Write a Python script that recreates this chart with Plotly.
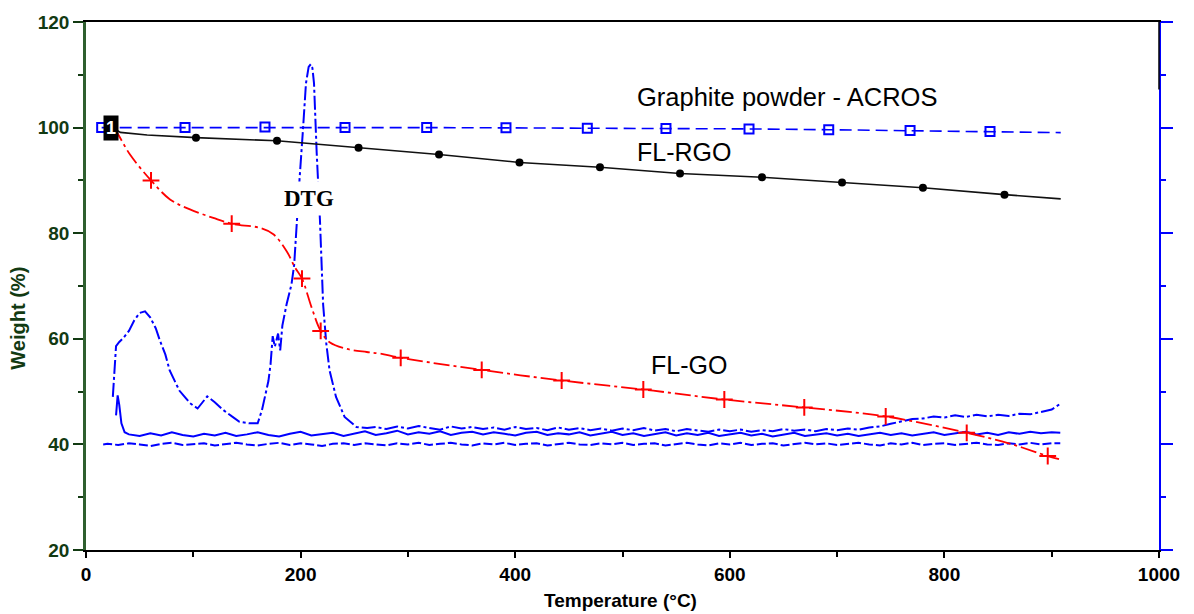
import plotly.graph_objects as go

# ---------------- data ----------------
# Graphite powder - ACROS (TGA, blue dashed, open squares)
GRAPHITE_T = [14.6, 92.3, 166.8, 241.4, 317.5, 391.4, 467.2, 540.5, 617.9, 692.2, 768.0, 842.5, 908.4]
GRAPHITE_W = [100.0, 100.0, 100.1, 100.0, 100.0, 99.95, 99.9, 99.85, 99.75, 99.6, 99.45, 99.25, 99.05]
GRAPHITE_MARK_T = [14.6, 92.3, 166.8, 241.4, 317.5, 391.4, 467.2, 540.5, 617.9, 692.2, 768.0, 842.5]
GRAPHITE_MARK_W = [100.0, 100.0, 100.1, 100.0, 100.0, 99.95, 99.9, 99.85, 99.75, 99.6, 99.45, 99.25]

# FL-RGO (TGA, black line, filled circles)
RGO_T = [25, 32, 57, 102.5, 178, 254, 329, 404, 479, 553.6, 630, 704.6, 780, 856, 908.4]
RGO_W = [100.0, 99.1, 98.6, 98.1, 97.5, 96.2, 94.9, 93.4, 92.5, 91.3, 90.6, 89.6, 88.6, 87.3, 86.5]
RGO_MARK_T = [102.5, 178, 254, 329, 404, 479, 553.6, 630, 704.6, 780, 856]
RGO_MARK_W = [98.1, 97.5, 96.2, 94.9, 93.4, 92.5, 91.3, 90.6, 89.6, 88.6, 87.3]

# FL-GO (TGA, red dash-dot, + markers)
GO_T = [25, 29, 41, 60.6, 78.3, 96.9, 118.6, 135.8, 162.2, 174.6, 187, 194.8, 201.3, 210.3,
        218.7, 227.4, 243, 261.6, 274, 293.3, 368.8, 443.3, 519.4, 594.9, 669.4, 745.3,
        820.8, 860, 896.3, 906.8]
GO_W = [100.0, 99.0, 94.9, 90.0, 86.4, 84.5, 82.9, 81.8, 81.0, 79.8, 76.6, 73.5, 71.4, 65.9,
        61.5, 59.3, 58.1, 57.5, 57.2, 56.4, 54.1, 52.1, 50.4, 48.5, 47.0, 45.3,
        42.2, 40.2, 37.8, 37.2]
GO_MARK_T = [60.6, 135.8, 201.3, 218.7, 293.3, 368.8, 443.3, 519.4, 594.9, 669.4, 745.3, 820.8, 896.3]
GO_MARK_W = [90.0, 81.8, 71.4, 61.5, 56.4, 54.1, 52.1, 50.4, 48.5, 47.0, 45.3, 42.2, 37.8]

# DTG curve of FL-GO (blue dash-dot), plotted on the weight scale
DTG_GO = [(25, 49.0), (28, 58.6), (31, 59.4), (35, 60.2), (40, 61.5), (45, 63.5), (50, 64.9),
          (55, 65.2), (60, 64.0), (65, 62.0), (69, 59.6), (74, 57.0), (78, 54.0), (83, 52.0),
          (87, 50.2), (92, 49.0), (97, 47.8), (104, 46.8), (109, 48.0), (113, 49.1), (120, 48.0),
          (128, 46.5), (136, 45.3), (143, 44.3), (152, 44.0), (160, 44.0), (164, 46.5),
          (167, 49.6), (170, 52.0), (172, 55.2), (174, 60.5), (176, 58.5), (179, 61.0),
          (181, 57.8), (183, 62.5), (187, 66.6), (191.5, 70.3), (194, 74.0), (196.5, 82.7),
          (199, 90.2), (202, 99.0), (205, 108.4), (207.5, 111.5), (209.5, 112.0), (211, 111.3),
          (212.5, 108.4), (215, 95.2), (218, 82.7), (221, 66.5), (224, 59.0), (227, 54.0),
          (233, 49.0), (241, 45.2), (252, 43.3), (262, 43.1),
          (270, 43.3), (280, 42.9), (290, 43.4), (300, 43.0), (310, 43.5), (320, 43.1),
          (330, 42.8), (340, 43.4), (350, 43.0), (360, 43.3), (370, 42.9), (380, 43.2),
          (390, 42.8), (400, 43.3), (410, 42.9), (420, 43.1), (430, 42.7), (440, 43.2),
          (450, 42.8), (460, 43.1), (470, 42.7), (480, 43.0), (490, 42.6), (500, 43.0),
          (510, 42.7), (520, 43.1), (530, 42.6), (540, 42.9), (550, 42.5), (560, 42.9),
          (570, 42.6), (580, 42.4), (590, 42.8), (600, 42.5), (610, 42.8), (620, 42.4),
          (630, 42.7), (640, 42.5), (650, 42.9), (660, 42.6), (670, 42.8), (680, 42.5),
          (690, 42.9), (700, 42.7), (710, 43.0), (720, 42.8), (730, 43.2), (740, 43.4),
          (750, 43.9), (760, 44.3), (770, 44.8), (780, 44.9), (790, 45.3), (800, 45.1),
          (810, 45.5), (820, 45.2), (830, 45.6), (840, 45.3), (850, 45.6), (860, 45.4),
          (870, 45.8), (880, 45.7), (890, 46.1), (900, 46.6), (908, 47.7)]

# DTG curve of FL-RGO (blue, noisy)
DTG_RGO = [(28, 45.5), (29.5, 49.3), (31, 47.5), (33, 44.0), (36, 42.3),
           (40, 41.9), (50, 41.6), (60, 42.1), (70, 41.7), (80, 42.3), (90, 41.8), (100, 41.5),
           (110, 42.0), (120, 41.7), (130, 42.2), (140, 41.6), (150, 41.9), (160, 42.3),
           (170, 41.8), (180, 41.5), (190, 42.0), (200, 42.4), (210, 41.7), (220, 41.9),
           (230, 42.2), (240, 41.6), (250, 42.0), (260, 42.5), (270, 41.8), (280, 42.1),
           (290, 42.6), (300, 41.9), (310, 42.3), (320, 42.0), (330, 42.5), (340, 41.8),
           (350, 42.2), (360, 42.4), (370, 41.9), (380, 42.3), (390, 42.0), (400, 41.7),
           (410, 42.2), (420, 42.4), (430, 41.8), (440, 42.1), (450, 41.9), (460, 42.3),
           (470, 41.7), (480, 42.0), (490, 42.4), (500, 41.8), (510, 42.1), (520, 41.6),
           (530, 42.0), (540, 42.3), (550, 41.7), (560, 42.1), (570, 41.8), (580, 42.2),
           (590, 41.6), (600, 41.9), (610, 42.2), (620, 41.7), (630, 42.0), (640, 41.5),
           (650, 41.9), (660, 42.2), (670, 41.6), (680, 41.9), (690, 42.1), (700, 41.7),
           (710, 42.0), (720, 41.6), (730, 41.9), (740, 42.2), (750, 41.8), (760, 42.1),
           (770, 41.7), (780, 42.0), (790, 42.3), (800, 41.8), (810, 42.1), (820, 42.4),
           (830, 41.9), (840, 42.2), (850, 41.8), (860, 42.3), (870, 42.0), (880, 42.4),
           (890, 42.1), (900, 42.3), (908, 42.2)]

# DTG curve of graphite (blue, flat)
DTG_GRAPHITE = [(16, 40.0), (20, 40.1), (30, 39.9), (40, 40.2), (50, 40.0), (60, 39.7),
                (70, 40.1), (80, 40.3), (90, 39.9), (100, 40.1), (110, 40.2), (120, 39.8),
                (130, 40.0), (140, 40.3), (150, 40.0), (160, 39.8), (170, 40.1), (180, 40.3),
                (190, 39.9), (200, 40.2), (210, 40.0), (220, 39.7), (230, 40.1), (240, 40.2),
                (250, 39.9), (260, 40.2), (270, 40.0), (280, 39.8), (290, 40.2), (300, 40.0),
                (310, 40.3), (320, 39.9), (330, 40.1), (340, 40.3), (350, 40.0), (360, 39.8),
                (370, 40.2), (380, 40.0), (390, 40.3), (400, 39.9), (410, 40.1), (420, 40.2),
                (430, 39.8), (440, 40.1), (450, 40.3), (460, 40.0), (470, 39.9), (480, 40.2),
                (490, 40.0), (500, 40.3), (510, 39.9), (520, 40.1), (530, 40.2), (540, 39.8),
                (550, 40.1), (560, 40.3), (570, 40.0), (580, 39.8), (590, 40.2), (600, 40.0),
                (610, 40.3), (620, 39.9), (630, 40.1), (640, 40.2), (650, 39.8), (660, 40.1),
                (670, 40.3), (680, 40.0), (690, 40.2), (700, 39.9), (710, 40.1), (720, 40.3),
                (730, 40.0), (740, 39.8), (750, 40.2), (760, 40.0), (770, 40.3), (780, 39.9),
                (790, 40.1), (800, 40.2), (810, 39.9), (820, 40.1), (830, 40.3), (840, 40.0),
                (850, 39.9), (860, 40.2), (870, 40.0), (880, 40.3), (890, 40.0), (900, 40.2),
                (908, 40.2)]

X_TICKS = [0, 200, 400, 600, 800, 1000]
Y_TICKS = [20, 40, 60, 80, 100, 120]

BLUE = "#0000ff"
RED = "#ff0000"
DKGREEN = "#123a12"
AXGREEN = "#2f5f2f"
SANS = "Liberation Sans, Arial, sans-serif"

fig = go.Figure()


def unzip(pairs):
    return [p[0] for p in pairs], [p[1] for p in pairs]


# DTG curves
tx, ty = unzip(DTG_GRAPHITE)
fig.add_trace(go.Scatter(x=tx, y=ty, mode="lines",
                         line=dict(color=BLUE, width=2, dash="9px,3px")))
tx, ty = unzip(DTG_RGO)
fig.add_trace(go.Scatter(x=tx, y=ty, mode="lines",
                         line=dict(color=BLUE, width=2)))
tx, ty = unzip(DTG_GO)
fig.add_trace(go.Scatter(x=tx, y=ty, mode="lines",
                         line=dict(color=BLUE, width=2, dash="14px,3px,3px,3px")))

# Graphite
fig.add_trace(go.Scatter(x=GRAPHITE_T, y=GRAPHITE_W, mode="lines",
                         line=dict(color=BLUE, width=1.6, dash="12px,6px")))
fig.add_trace(go.Scatter(x=GRAPHITE_MARK_T, y=GRAPHITE_MARK_W, mode="markers",
                         marker=dict(symbol="square-open", size=9, color=BLUE,
                                     line=dict(color=BLUE, width=2))))

# FL-RGO
fig.add_trace(go.Scatter(x=RGO_T, y=RGO_W, mode="lines",
                         line=dict(color="#111111", width=1.6)))
fig.add_trace(go.Scatter(x=RGO_MARK_T, y=RGO_MARK_W, mode="markers",
                         marker=dict(symbol="circle", size=8, color="black")))

# FL-GO
fig.add_trace(go.Scatter(x=GO_T, y=GO_W, mode="lines", line_shape="spline",
                         line=dict(color=RED, width=1.8, dash="16px,4px,3px,4px")))
fig.add_trace(go.Scatter(x=GO_MARK_T, y=GO_MARK_W, mode="markers",
                         marker=dict(symbol="cross-thin-open", size=12, color=RED,
                                     line=dict(color=RED, width=2))))

# right-hand (blue) axis carrier
fig.add_trace(go.Scatter(x=[None], y=[None], yaxis="y2", showlegend=False))

fig.update_layout(
    width=1194, height=614,
    margin=dict(l=86, r=35, t=20, b=64),
    paper_bgcolor="white", plot_bgcolor="white",
    showlegend=False,
    xaxis=dict(range=[0, 1000], tickvals=X_TICKS, ticks="outside", ticklen=6,
               tickwidth=1.5, tickcolor="black",
               minor=dict(dtick=100, tick0=0, ticks="outside", ticklen=5,
                          tickcolor="black", tickwidth=1.5),
               showline=True, linecolor="black", linewidth=1.5, mirror=True,
               showgrid=False, zeroline=False,
               tickfont=dict(family=SANS, size=19, color="black", weight="bold")),
    yaxis=dict(range=[20, 120], tickvals=Y_TICKS, ticks="outside", ticklen=10,
               tickwidth=1.5, tickcolor=DKGREEN,
               minor=dict(dtick=10, tick0=0, ticks="outside", ticklen=5,
                          tickcolor=DKGREEN, tickwidth=1.5),
               showline=True, linecolor=AXGREEN, linewidth=2.5,
               showgrid=False, zeroline=False,
               tickfont=dict(family=SANS, size=19, color=DKGREEN, weight="bold")),
    yaxis2=dict(range=[20, 120], overlaying="y", side="right", tickvals=Y_TICKS,
                showticklabels=False, ticks="outside", ticklen=12, tickwidth=1.5,
                tickcolor=BLUE,
                minor=dict(dtick=10, tick0=0, ticks="outside", ticklen=5,
                           tickcolor=BLUE, tickwidth=2),
                showline=True, linecolor=BLUE, linewidth=1.5,
                showgrid=False, zeroline=False),
)

# black upper part of the right axis line
fig.add_shape(type="line", xref="paper", yref="y", x0=1, x1=1, y0=107.2, y1=120,
              line=dict(color="black", width=1.5), layer="above")

annots = [
    dict(x=511.6, y=105.8, text="Graphite powder - ACROS", xanchor="left", yanchor="middle",
         font=dict(family=SANS, size=25.5, color="black")),
    dict(x=511.6, y=95.3, text="FL-RGO", xanchor="left", yanchor="middle",
         font=dict(family=SANS, size=25, color="black")),
    dict(x=524.7, y=55.1, text="FL-GO", xanchor="left", yanchor="middle",
         font=dict(family=SANS, size=25, color="black")),
    dict(x=207.8, y=86.5, text="DTG", xanchor="center", yanchor="middle",
         font=dict(family="Liberation Serif, Times New Roman, serif", size=23,
                   color="black", weight="bold"),
         bgcolor="white", borderpad=4),
    dict(x=23.1, y=100.0, text="1", xanchor="center", yanchor="middle",
         font=dict(family=SANS, size=18, color="white", weight="bold"),
         bgcolor="black", borderpad=2),
]
for a in annots:
    fig.add_annotation(showarrow=False, xref="x", yref="y", **a)

fig.add_annotation(xref="paper", yref="paper", x=-0.0634, y=0.44, text="Weight (%)",
                   textangle=-90, showarrow=False, xanchor="center", yanchor="middle",
                   font=dict(family=SANS, size=20, color=DKGREEN, weight="bold"))
fig.add_annotation(xref="paper", yref="paper", x=0.498, y=-0.095, text="Temperature (°C)",
                   showarrow=False, xanchor="center", yanchor="middle",
                   font=dict(family=SANS, size=19, color="black", weight="bold"))

fig.write_html("out.html",
               config={"displayModeBar": False},
               post_script="document.body.style.margin='0';document.body.style.overflow='hidden';")
